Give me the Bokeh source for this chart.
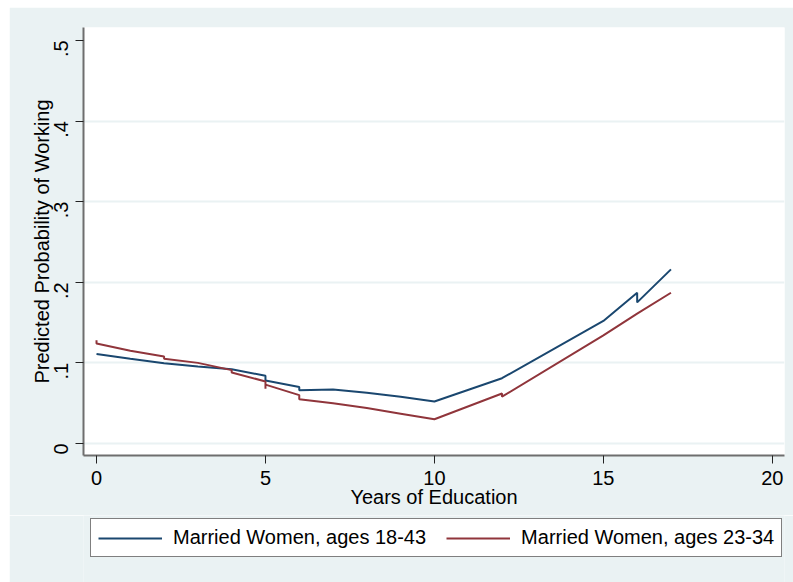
import math
from bokeh.plotting import figure
from bokeh.layouts import column
from bokeh.models import FixedTicker, Legend, LegendItem, Range1d
from bokeh.embed import file_html
from bokeh.resources import INLINE

# Data
edu_1843 = [0, 1, 2, 3, 4, 5, 5, 6, 6, 7, 8, 9, 10, 12, 15, 16, 16, 17]
prob_1843 = [0.111, 0.105, 0.0996, 0.0955, 0.092, 0.084, 0.078, 0.070, 0.066,
             0.067, 0.063, 0.058, 0.052, 0.081, 0.152, 0.187, 0.175, 0.216]

edu_2334 = [0, 0, 1, 2, 2, 3, 4, 4, 5, 5, 5, 6, 6, 7, 8, 9, 10, 12, 12, 15, 16, 17]
prob_2334 = [0.128, 0.124, 0.115, 0.108, 0.105, 0.100, 0.091, 0.088, 0.077, 0.068,
             0.073, 0.060, 0.055, 0.050, 0.044, 0.037, 0.030, 0.062, 0.058,
             0.134, 0.161, 0.187]

x_ticks = [0, 5, 10, 15, 20]
y_ticks = [0, 0.1, 0.2, 0.3, 0.4, 0.5]
y_tick_labels = ["0", ".1", ".2", ".3", ".4", ".5"]
series_labels = ["Married Women, ages 18-43", "Married Women, ages 23-34"]

BG = "#EAF2F3"
NAVY = "#1A476F"
MAROON = "#90353B"
FONT = "Liberation Sans"

p = figure(width=784, height=508, output_backend="svg", toolbar_location=None,
           x_range=Range1d(-0.385, 20.36), y_range=Range1d(-0.0149, 0.516),
           min_border_left=74, min_border_right=9, min_border_top=20,
           min_border_bottom=60)
p.margin = (7, 0, 0, 9)
p.border_fill_color = BG
p.background_fill_color = "white"
p.outline_line_color = None

p.line(edu_1843, prob_1843, line_color=NAVY, line_width=2)
p.line(edu_2334, prob_2334, line_color=MAROON, line_width=2)

# axes
for ax in (p.xaxis[0], p.yaxis[0]):
    ax.axis_line_color = "#6E6E6E"
    ax.axis_line_width = 2
    ax.major_tick_line_color = "#222222"
    ax.major_tick_line_width = 1
    ax.major_tick_out = 8
    ax.major_tick_in = 0
    ax.minor_tick_line_color = None
    ax.major_label_text_font = FONT
    ax.major_label_text_font_size = "20px"
    ax.major_label_text_color = "black"
    ax.axis_label_text_font = FONT
    ax.axis_label_text_font_size = "20px"
    ax.axis_label_text_font_style = "normal"
    ax.axis_label_text_color = "black"

p.xaxis[0].ticker = FixedTicker(ticks=x_ticks)
p.xaxis[0].axis_label = "Years of Education"
p.xaxis[0].major_label_standoff = 7
p.xaxis[0].axis_label_standoff = -2

p.yaxis[0].ticker = FixedTicker(ticks=y_ticks)
p.yaxis[0].major_label_overrides = {t: l for t, l in zip(y_ticks, y_tick_labels)}
p.yaxis[0].major_label_orientation = math.pi / 2
p.yaxis[0].major_label_standoff = 14
p.yaxis[0].axis_label = "Predicted Probability of Working"
p.yaxis[0].axis_label_standoff = -8

p.xgrid.grid_line_color = None
p.ygrid.ticker = FixedTicker(ticks=[0, 0.1, 0.2, 0.3, 0.4])
p.ygrid.grid_line_color = BG
p.ygrid.grid_line_width = 2

# legend strip below the plot, as in the reference
pl = figure(width=784, height=67, output_backend="svg", toolbar_location=None,
            x_range=Range1d(100, 101), y_range=Range1d(100, 101),
            x_axis_location=None, y_axis_location=None,
            min_border_left=74, min_border_right=9, min_border_top=0,
            min_border_bottom=0)
pl.margin = (0, 0, 0, 9)
pl.border_fill_color = BG
pl.background_fill_color = BG
pl.outline_line_color = None
pl.xgrid.grid_line_color = None
pl.ygrid.grid_line_color = None
l1 = pl.line(edu_1843, prob_1843, line_color=NAVY, line_width=2)
l2 = pl.line(edu_2334, prob_2334, line_color=MAROON, line_width=2)

legend = Legend(items=[LegendItem(label=series_labels[0], renderers=[l1]),
                       LegendItem(label=series_labels[1], renderers=[l2])],
                orientation="horizontal", location=(7, 25))
legend.label_text_font = FONT
legend.label_text_font_size = "20px"
legend.label_text_color = "black"
legend.glyph_width = 64
legend.glyph_height = 20
legend.label_standoff = 11
legend.spacing = 20
legend.padding = 7
legend.margin = 0
legend.border_line_color = "black"
legend.border_line_width = 1
legend.background_fill_color = "white"
legend.background_fill_alpha = 1
pl.add_layout(legend)

layout = column(p, pl, spacing=0)
open("out.html", "w").write(file_html(layout, INLINE))
